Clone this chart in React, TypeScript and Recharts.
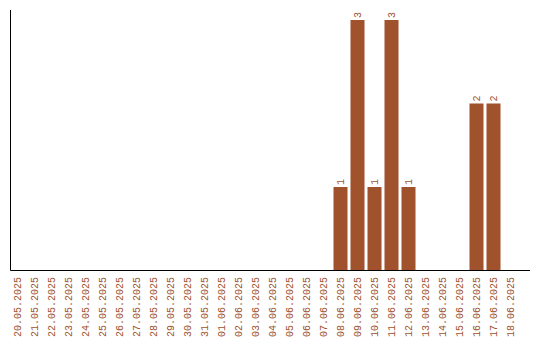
import React from "react";
import { BarChart, Bar, XAxis, YAxis, LabelList } from "recharts";

const dates = [
  "20.05.2025", "21.05.2025", "22.05.2025", "23.05.2025", "24.05.2025",
  "25.05.2025", "26.05.2025", "27.05.2025", "28.05.2025", "29.05.2025",
  "30.05.2025", "31.05.2025", "01.06.2025", "02.06.2025", "03.06.2025",
  "04.06.2025", "05.06.2025", "06.06.2025", "07.06.2025", "08.06.2025",
  "09.06.2025", "10.06.2025", "11.06.2025", "12.06.2025", "13.06.2025",
  "14.06.2025", "15.06.2025", "16.06.2025", "17.06.2025", "18.06.2025",
];

const counts = [
  0, 0, 0, 0, 0, 0, 0, 0, 0, 0,
  0, 0, 0, 0, 0, 0, 0, 0, 0, 1,
  3, 1, 3, 1, 0, 0, 0, 2, 2, 0,
];

const data = dates.map((d, i) => ({ date: d, count: counts[i] }));

const BROWN = "#a0522d";
const FONT = "'Liberation Mono', monospace";

// rotated date labels, anchored just under the axis line
const DateTick = (props: any) => {
  const { x, payload } = props;
  const y = 277;
  return (
    <text
      x={x}
      y={y}
      transform={`rotate(-90 ${x} ${y})`}
      textAnchor="end"
      dy="0.35em"
      fill={BROWN}
      fontSize={10}
      fontFamily={FONT}
    >
      {payload.value}
    </text>
  );
};

const ValueLabel = (props: any) => {
  const { x, y, width, value } = props;
  if (!value) return null;
  const cx = x + width / 2;
  const ty = y - 2;
  return (
    <text
      x={cx}
      y={ty}
      transform={`rotate(-90 ${cx} ${ty})`}
      textAnchor="start"
      dy="0.35em"
      fill={BROWN}
      fontSize={10}
      fontFamily={FONT}
    >
      {value}
    </text>
  );
};

export default function App() {
  return (
    <div style={{ position: "absolute", left: 0, top: 0, background: "white" }}>
      <BarChart
        width={540}
        height={340}
        data={data}
        margin={{ top: 10, right: 10, left: 9.5, bottom: 9.5 }}
      >
        <XAxis
          dataKey="date"
          interval={0}
          height={60}
          stroke="#000"
          tickLine={false}
          tick={<DateTick />}
          padding={{ left: -2, right: 11.5 }}
        />
        <YAxis
          width={1}
          domain={[0, 3.12]}
          tick={false}
          tickLine={false}
          stroke="#000"
          allowDataOverflow
        />
        <Bar dataKey="count" fill={BROWN} barSize={14} isAnimationActive={false}>
          <LabelList dataKey="count" content={<ValueLabel />} />
        </Bar>
      </BarChart>
    </div>
  );
}
